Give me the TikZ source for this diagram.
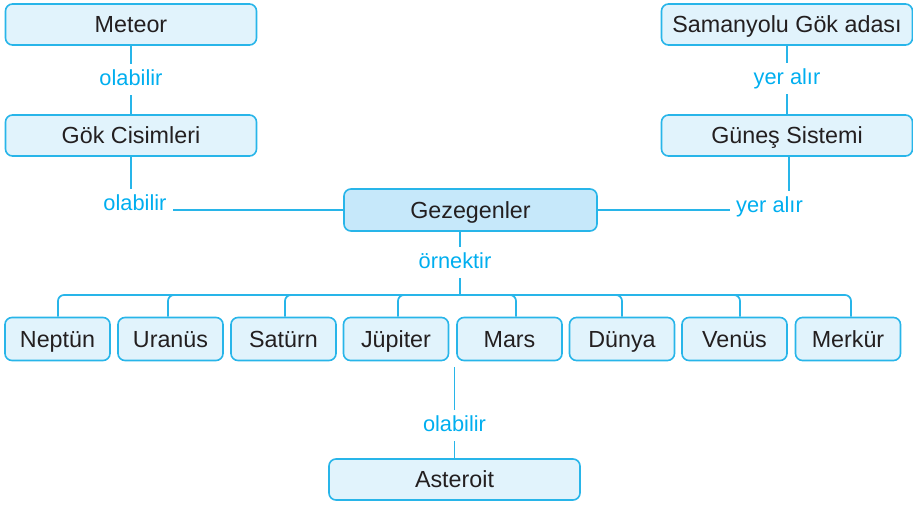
\documentclass[tikz,border=0pt]{standalone}
\usepackage{fontspec}
\setmainfont{Liberation Sans}
\definecolor{cyanln}{RGB}{40,181,233}
\definecolor{cyantxt}{RGB}{0,174,239}
\definecolor{boxfill}{RGB}{225,243,252}
\definecolor{gezfill}{RGB}{198,232,250}
\definecolor{ink}{RGB}{35,31,32}

\begin{document}
\begin{tikzpicture}[x=1pt,y=-1pt,
  box/.style={draw=cyanln, line width=1.6pt, fill=boxfill, rounded corners=7pt,
    minimum width=251pt, minimum height=41pt, inner sep=0pt, text=ink,
    text height=17pt, text depth=0.3pt,
    font=\fontsize{23.3}{28}\selectfont},
  planet/.style={box, minimum width=105pt, minimum height=43pt},
  lbl/.style={text=cyantxt, font=\fontsize{21.8}{26}\selectfont, anchor=base,
    text height=15pt, text depth=4pt, inner ysep=6pt, inner xsep=6pt},
  conn/.style={draw=cyanln, line width=1.7pt}]

\useasboundingbox (0,0) rectangle (913,506);

\def\xl{131}; % left column
\def\xr{787}; % right column
\def\yt{24.5}; % top row
\def\ym{135.5}; % second row
\def\yg{210}; % Gezegenler
\def\yp{339}; % planets

% boxes
\node[box] (met) at (\xl,\yt) {Meteor};
\node[box] (gok) at (\xl,\ym) {Gök Cisimleri};
\node[box] (sam) at (\xr,\yt) {Samanyolu Gök adası};
\node[box] (gun) at (\xr,\ym) {Güneş Sistemi};
\node[box, fill=gezfill, minimum width=253pt, minimum height=42pt] (gez) at (470.5,\yg) {Gezegenler};
\node[box] (ast) at (454.5,479.5) {Asteroit};

\foreach \nm/\txt/\x in {nep/Neptün/57.5, ura/Uranüs/170.5, sat/Satürn/283.5,
  jup/Jüpiter/396, mar/Mars/509.5, dun/Dünya/622, ven/Venüs/734.5, mer/Merkür/848}
  \node[planet] (\nm) at (\x,\yp) {\txt};

% labels
\node[lbl] (l1) at (\xl,85) {olabilir};
\node[lbl] (l2) at (135,210) {olabilir};
\node[lbl] (r1) at (\xr,84) {yer alır};
\node[lbl] (r2) at (769.5,212) {yer alır};
\node[lbl] (orn) at (455,268) {örnektir};
\node[lbl] (l3) at (454.5,431) {olabilir};

% left side
\draw[conn] (met) -- (l1);
\draw[conn] (l1) -- (gok);
\draw[conn] (gok.south) -- (gok.south |- l2.north);
\draw[conn] (gez.west) -- (gez.west -| l2.east);

% right side
\draw[conn] (sam) -- (r1);
\draw[conn] (r1) -- (gun);
\draw[conn] ([xshift=2pt]gun.south) -- ([xshift=2pt]gun.south |- r2.north);
\draw[conn] (gez.east) -- (gez.east -| r2.west);

% planets
\coordinate (bus) at (460,295);
\draw[conn] (gez.south -| bus) -- (bus |- orn.north);
\draw[conn] (orn.south -| bus) -- (bus);
\foreach \nm/\off in {nep/0.5, ura/-2.5, sat/1.5, jup/2, mar/6.5, dun/0, ven/5.5, mer/3}
  \draw[conn, rounded corners=6pt] (bus) -| ([xshift=\off pt]\nm.north);

% asteroit
\coordinate (atop) at (454.5,367);
\draw[conn] (atop) -- (l3);
\draw[conn] (l3) -- (ast);

\end{tikzpicture}
\end{document}
